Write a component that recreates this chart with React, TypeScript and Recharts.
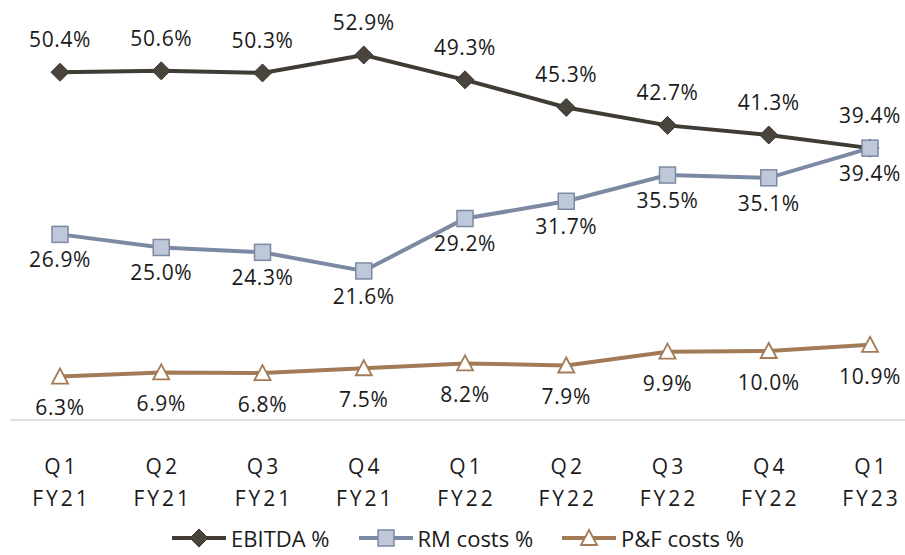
import { LineChart, Line, XAxis, YAxis, Legend, LabelList } from "recharts";

const quarters = ["Q1", "Q2", "Q3", "Q4", "Q1", "Q2", "Q3", "Q4", "Q1"];
const years = ["FY21", "FY21", "FY21", "FY21", "FY22", "FY22", "FY22", "FY22", "FY23"];
const ebitda = [50.4, 50.6, 50.3, 52.9, 49.3, 45.3, 42.7, 41.3, 39.4];
const rmCosts = [26.9, 25.0, 24.3, 21.6, 29.2, 31.7, 35.5, 35.1, 39.4];
const pfCosts = [6.3, 6.9, 6.8, 7.5, 8.2, 7.9, 9.9, 10.0, 10.9];

const data = quarters.map((q, i) => ({
  name: q + " " + years[i],
  q,
  fy: years[i],
  ebitda: ebitda[i],
  rm: rmCosts[i],
  pf: pfCosts[i],
}));

const FONT = "'Open Sans', sans-serif";
const TEXT = "#1a1a1a";
const C_EBITDA = "#403b35";
const C_RM = "#7c89a2";
const C_RM_FILL = "#bec8d8";
const C_PF = "#a27b56";

const fmt = (v: any) => Number(v).toFixed(1) + "%";

function Diamond({ cx, cy }: any) {
  const r = 9;
  return (
    <path
      d={`M${cx},${cy - r} L${cx + r},${cy} L${cx},${cy + r} L${cx - r},${cy} Z`}
      fill="#4a443d"
      stroke="#3a352f"
      strokeWidth={1}
    />
  );
}

function Square({ cx, cy }: any) {
  const r = 8;
  return (
    <rect x={cx - r} y={cy - r} width={2 * r} height={2 * r} fill={C_RM_FILL} stroke={C_RM} strokeWidth={1.5} />
  );
}

function Triangle({ cx, cy }: any) {
  const r = 8;
  return (
    <path
      d={`M${cx},${cy - r} L${cx + r},${cy + r - 1} L${cx - r},${cy + r - 1} Z`}
      fill="#ffffff"
      stroke={C_PF}
      strokeWidth={1.8}
    />
  );
}

function CatTick({ x, y, payload }: any) {
  const d = data[payload.index];
  return (
    <text x={x} y={y} textAnchor="middle" fill={TEXT} fontFamily={FONT} fontSize={21} letterSpacing={3}>
      <tspan x={x + 1.5} dy={46}>{d.q}</tspan>
      <tspan x={x + 1.5} dy={32}>{d.fy}</tspan>
    </text>
  );
}

const legendItems = [
  { label: "EBITDA %", color: C_EBITDA, Marker: Diamond },
  { label: "RM costs %", color: C_RM, Marker: Square },
  { label: "P&F costs %", color: C_PF, Marker: Triangle },
];

function LegendContent() {
  return (
    <div
      style={{
        display: "flex",
        justifyContent: "center",
        gap: 28,
        marginTop: 15,
        fontFamily: FONT,
        fontSize: 22,
        color: TEXT,
        lineHeight: "26px",
      }}
    >
      {legendItems.map(({ label, color, Marker }) => (
        <div key={label} style={{ display: "flex", alignItems: "center" }}>
          <svg width={56} height={22}>
            <line x1={1} y1={11} x2={55} y2={11} stroke={color} strokeWidth={4} />
            <Marker cx={28} cy={11} />
          </svg>
          <span style={{ marginLeft: 4 }}>{label}</span>
        </div>
      ))}
    </div>
  );
}

export default function App() {
  return (
    <div style={{ position: "absolute", left: 0, top: 0, background: "#fff" }}>
      <LineChart width={905} height={555} data={data} margin={{ top: 6, right: 0, left: 10, bottom: 0 }}>
        <XAxis
          dataKey="name"
          axisLine={{ stroke: "#d9d9d9", strokeWidth: 1.5 }}
          tickLine={false}
          tick={<CatTick />}
          interval={0}
          height={90}
          padding={{ left: 50, right: 35 }}
        />
        <YAxis hide domain={[0, 60]} />
        <Legend verticalAlign="bottom" height={45} content={<LegendContent />} />
        <Line
          dataKey="ebitda"
          name="EBITDA %"
          stroke={C_EBITDA}
          strokeWidth={4}
          dot={<Diamond />}
          activeDot={false}
          isAnimationActive={false}
        >
          <LabelList dataKey="ebitda" position="top" offset={25} formatter={fmt} fill={TEXT} fontFamily={FONT} fontSize={21} letterSpacing={0.6} />
        </Line>
        <Line
          dataKey="rm"
          name="RM costs %"
          stroke={C_RM}
          strokeWidth={4}
          dot={<Square />}
          activeDot={false}
          isAnimationActive={false}
        >
          <LabelList dataKey="rm" position="bottom" offset={18} formatter={fmt} fill={TEXT} fontFamily={FONT} fontSize={21} letterSpacing={0.6} />
        </Line>
        <Line
          dataKey="pf"
          name="P&F costs %"
          stroke={C_PF}
          strokeWidth={4}
          dot={<Triangle />}
          activeDot={false}
          isAnimationActive={false}
        >
          <LabelList dataKey="pf" position="bottom" offset={24} formatter={fmt} fill={TEXT} fontFamily={FONT} fontSize={21} letterSpacing={0.6} />
        </Line>
      </LineChart>
    </div>
  );
}
